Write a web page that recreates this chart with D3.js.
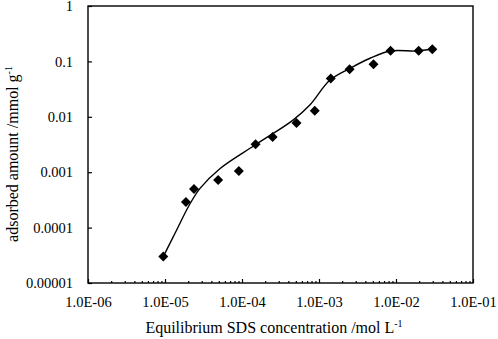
<!DOCTYPE html>
<html lang="en">
<head>
    <meta charset="UTF-8">
    <title>Adsorption isotherm of SDS</title>
    <script src="https://d3js.org/d3.v7.min.js"></script>
    <style>
        body {
            margin: 0;
            background: #fff;
        }
        svg text {
            font-family: "Liberation Serif", "DejaVu Serif", serif;
            fill: #000;
        }
    </style>
</head>
<body>
    <svg width="498" height="339"></svg>
    <script>
        // measured points (concentration mol/L, adsorbed mmol/g)
        const concentration = [9.5e-6, 1.87e-5, 2.38e-5, 4.9e-5, 9.1e-5, 1.5e-4, 2.5e-4, 5.1e-4, 8.8e-4,
            1.42e-3, 2.5e-3, 5.1e-3, 8.5e-3, 1.97e-2, 2.96e-2];
        const adsorbed = [3.0e-5, 2.9e-4, 5.0e-4, 7.2e-4, 1.05e-3, 3.2e-3, 4.3e-3, 7.7e-3, 1.29e-2,
            4.9e-2, 7.2e-2, 8.85e-2, 0.156, 0.156, 0.166];

        // fitted curve
        const fitConc = [9.5e-6, 1.35e-5, 2.07e-5, 2.85e-5, 5.2e-5, 1.48e-4, 4.6e-4, 7.6e-4, 1.39e-3,
            2.53e-3, 4.6e-3, 8.4e-3, 1.86e-2, 2.9e-2];
        const fitAds = [3.0e-5, 7.9e-5, 2.56e-4, 5.1e-4, 1.17e-3, 3.1e-3, 8.7e-3, 1.63e-2, 4.6e-2,
            7.5e-2, 0.114, 0.154, 0.154, 0.167];

        const xMajor = [1e-6, 1e-5, 1e-4, 1e-3, 1e-2, 1e-1];
        const xLabels = ["1.0E-06", "1.0E-05", "1.0E-04", "1.0E-03", "1.0E-02", "1.0E-01"];
        const yMajor = [1, 0.1, 0.01, 0.001, 0.0001, 0.00001];
        const yLabels = ["1", "0.1", "0.01", "0.001", "0.0001", "0.00001"];

        const plotL = 88, plotR = 473, plotT = 6, plotB = 283;
        const serif = '"Liberation Serif", "DejaVu Serif", serif';

        const svg = d3.select("svg");

        const x = d3.scaleLog().domain([1e-6, 1e-1]).range([plotL, plotR]);
        const y = d3.scaleLog().domain([1e-5, 1]).range([plotB, plotT]);

        // minor ticks 2..9 of every decade
        const xMinor = [];
        xMajor.slice(0, -1).forEach(d => {
            for (let k = 2; k <= 9; k++) xMinor.push(d * k);
        });

        const styleAxis = g => {
            g.select(".domain").remove();
            g.attr("font-family", serif).attr("font-size", 14.5);
            g.selectAll("line").attr("stroke", "#000").attr("stroke-width", 1.2);
            g.selectAll("text").attr("fill", "#000");
        };

        svg.append("g")
            .attr("transform", `translate(0,${plotB})`)
            .call(d3.axisBottom(x).tickValues(xMinor).tickSize(-2).tickFormat(""))
            .call(styleAxis);

        svg.append("g")
            .attr("transform", `translate(0,${plotB})`)
            .call(d3.axisBottom(x).tickValues(xMajor).tickSize(-4).tickPadding(14)
                .tickFormat((d, i) => xLabels[i]))
            .call(styleAxis);

        svg.append("g")
            .attr("transform", `translate(${plotL},0)`)
            .call(d3.axisLeft(y).tickValues(yMajor).tickSize(-4).tickPadding(15)
                .tickFormat((d, i) => yLabels[i]))
            .call(styleAxis);

        // plot frame
        svg.append("rect")
            .attr("x", plotL)
            .attr("y", plotT)
            .attr("width", plotR - plotL)
            .attr("height", plotB - plotT)
            .attr("fill", "none")
            .attr("stroke", "#000")
            .attr("stroke-width", 1.4);

        // fitted line
        const line = d3.line()
            .x(d => x(d[0]))
            .y(d => y(d[1]))
            .curve(d3.curveCatmullRom.alpha(0.5));

        svg.append("path")
            .datum(fitConc.map((c, i) => [c, fitAds[i]]))
            .attr("d", line)
            .attr("fill", "none")
            .attr("stroke", "#000")
            .attr("stroke-width", 1.4);

        // diamond markers
        const diamond = d3.symbol().type(d3.symbolSquare).size(50);
        svg.append("g")
            .selectAll("path")
            .data(concentration.map((c, i) => [c, adsorbed[i]]))
            .join("path")
            .attr("d", diamond)
            .attr("transform", d => `translate(${x(d[0])},${y(d[1])}) rotate(45)`)
            .attr("fill", "#000");

        // axis titles
        const xt = svg.append("text")
            .attr("font-family", serif)
            .attr("font-size", 16)
            .attr("x", 274)
            .attr("y", 333)
            .attr("text-anchor", "middle")
            .text("Equilibrium SDS concentration /mol L");
        xt.append("tspan").attr("dy", -6).attr("font-size", 10).text("-1");

        const yt = svg.append("text")
            .attr("font-family", serif)
            .attr("font-size", 16)
            .attr("transform", "translate(18,154) rotate(-90)")
            .attr("text-anchor", "middle")
            .text("adsorbed amount /mmol g");
        yt.append("tspan").attr("dy", -6).attr("font-size", 10).text("-1");
    </script>
</body>
</html>
